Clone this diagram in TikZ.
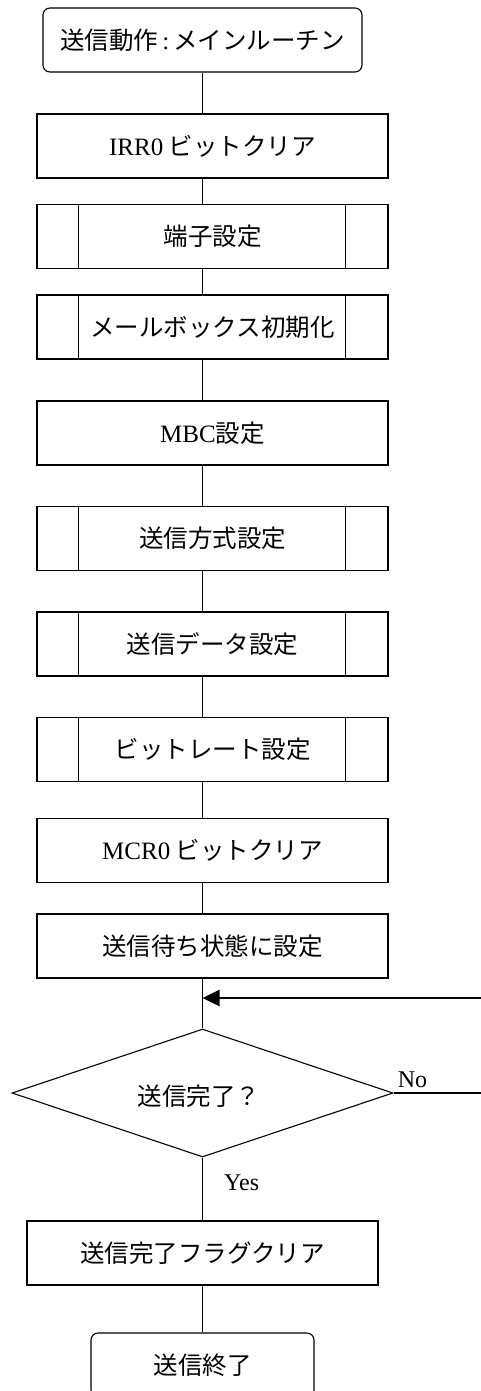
\documentclass[tikz,border=0pt]{standalone}
\usepackage{fontspec}
\setmainfont{Liberation Serif}
\newfontfamily\jp{Noto Sans CJK JP}
\usetikzlibrary{shapes.geometric,arrows.meta}
\tikzset{
  base/.style={draw=black, line width=1.1pt, minimum height=64pt, inner sep=0pt, font=\fontsize{24.5}{28}\selectfont\jp},
  termbox/.style={base, rounded corners=7pt},
  procbox/.style={base, minimum width=351pt},
  subbox/.style={base, minimum width=351pt},
  decbox/.style={base, diamond, aspect=3},
  conn/.style={line width=1.1pt},
  back/.style={line width=2.4pt},
  lbl/.style={font=\fontsize{24}{28}\selectfont, inner sep=0pt}
}
\newcommand{\lat}[1]{{\rmfamily\fontsize{25}{28}\selectfont #1}}
\begin{document}
\begin{tikzpicture}[x=1pt,y=-1pt]
\useasboundingbox (0,0) rectangle (480,1391);
\node[termbox, minimum width=319pt] (start) at (202.5,40) {送信動作\lat{\,:\,}メインルーチン};
\node[procbox] (irr) at (212.5,146) {\lat{IRR0} ビットクリア};
\node[subbox] (pin) at (212.5,236.5) {端子設定};
\node[subbox] (mb) at (212.5,327) {メールボックス初期化};
\node[procbox] (mbc) at (212.5,433) {\lat{MBC}設定};
\node[subbox] (mode) at (212.5,538.5) {送信方式設定};
\node[subbox] (data) at (212.5,644) {送信データ設定};
\node[subbox] (rate) at (212.5,749.5) {ビットレート設定};
\node[procbox] (mcr) at (212.5,850.5) {\lat{MCR0} ビットクリア};
\node[procbox] (wait) at (212.5,946) {送信待ち状態に設定};
\node[decbox, draw, minimum width=381pt, minimum height=128pt, inner sep=0pt] (dec) at (202.5,1093) {};
\node[font=\fontsize{24.5}{28}\selectfont\jp] (dect) at (199,1096) {送信完了？};
\node[procbox] (clr) at (202.5,1253) {送信完了フラグクリア};
\node[termbox, minimum width=223pt] (fin) at (202.5,1365) {送信終了};
% subroutine inner lines
\foreach \n in {pin,mb,mode,data,rate}{
  \draw[conn] ([xshift=42pt]\n.north west) -- ([xshift=42pt]\n.south west);
  \draw[conn] ([xshift=-43pt]\n.north east) -- ([xshift=-43pt]\n.south east);
}
% connectors
\draw[conn] (start.south) -- (start.south |- irr.north);
\draw[conn] (start.south |- irr.south) -- (start.south |- pin.north);
\draw[conn] (start.south |- pin.south) -- (start.south |- mb.north);
\draw[conn] (start.south |- mb.south) -- (start.south |- mbc.north);
\draw[conn] (start.south |- mbc.south) -- (start.south |- mode.north);
\draw[conn] (start.south |- mode.south) -- (start.south |- data.north);
\draw[conn] (start.south |- data.south) -- (start.south |- rate.north);
\draw[conn] (start.south |- rate.south) -- (start.south |- mcr.north);
\draw[conn] (start.south |- mcr.south) -- (start.south |- wait.north);
\draw[conn] (start.south |- wait.south) -- (dec.north);
\draw[conn] (dec.south) -- (clr.north);
\draw[conn] (clr.south) -- (fin.north);
% loop back
\coordinate (m) at (202.5,998);
\coordinate (r1) at (490,1093);
\coordinate (r2) at (490,998);
\draw[conn] (dec.east) -- (r1);
\draw[back, -{Triangle[length=17pt,width=16pt]}] (r1) -- (r2) -- (m);
\node[lbl, anchor=south west] (no) at ([xshift=4pt,yshift=5pt]dec.east) {No};
\node[lbl, anchor=west] (yes) at (224,1183) {Yes};
\end{tikzpicture}
\end{document}
